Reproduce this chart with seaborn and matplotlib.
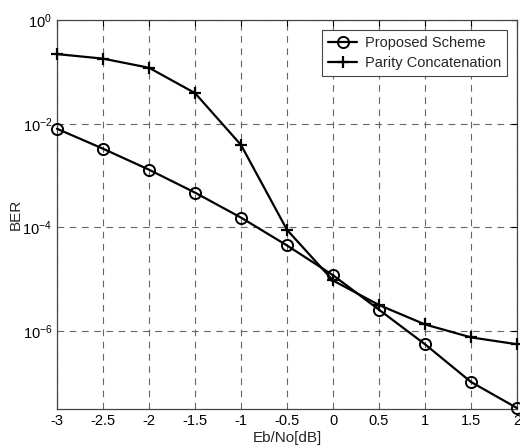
import matplotlib
matplotlib.use("Agg")
import matplotlib.pyplot as plt
import seaborn as sns
import numpy as np
import pandas as pd

ebno = [-3, -2.5, -2, -1.5, -1, -0.5, 0, 0.5, 1, 1.5, 2]
proposed = [8e-3, 3.3e-3, 1.3e-3, 4.7e-4, 1.55e-4, 4.5e-5, 1.2e-5, 2.6e-6, 5.6e-7, 1.05e-7, 3.3e-8]
parity = [0.22, 0.18, 0.12, 0.039, 3.9e-3, 9e-5, 9.5e-6, 3.2e-6, 1.35e-6, 7.6e-7, 5.6e-7]
xticks = [-3, -2.5, -2, -1.5, -1, -0.5, 0, 0.5, 1, 1.5, 2]
xtick_labels = ["-3", "-2.5", "-2", "-1.5", "-1", "-0.5", "0", "0.5", "1", "1.5", "2"]
yticks = [1e0, 1e-2, 1e-4, 1e-6]
ytick_labels = [r"$10^{0}$", r"$10^{-2}$", r"$10^{-4}$", r"$10^{-6}$"]

sns.set_style("white")
plt.rcParams['font.family'] = ['Liberation Sans', 'DejaVu Sans']
plt.rcParams['mathtext.fontset'] = 'custom'
plt.rcParams['mathtext.rm'] = 'Liberation Sans'
plt.rcParams['mathtext.it'] = 'Liberation Sans'
plt.rcParams['mathtext.default'] = 'regular'

fig = plt.figure(figsize=(5.2, 4.48), dpi=100)
ax = fig.add_axes([57/520, 39/448, 460/520, 389/448])

sns.lineplot(x=ebno, y=proposed, ax=ax, color='black', linewidth=1.6,
             marker='o', markersize=8, markerfacecolor='none',
             markeredgecolor='black', markeredgewidth=1.4, label='Proposed Scheme',
             clip_on=False, zorder=5)
sns.lineplot(x=ebno, y=parity, ax=ax, color='black', linewidth=1.6,
             marker='+', markersize=9, markeredgecolor='black',
             markeredgewidth=1.6, label='Parity Concatenation',
             clip_on=False, zorder=5)

ax.set_yscale('log')
ax.set_xlim(-3, 2)
ax.set_ylim(10**-7.5, 1)
ax.set_xticks(xticks)
ax.set_xticklabels(xtick_labels)
ax.set_yticks(yticks)
ax.set_yticklabels(ytick_labels)
ax.yaxis.set_minor_locator(matplotlib.ticker.NullLocator())
ax.tick_params(direction='in', length=4, labelsize=10.5, top=True, right=True, colors='black')
ax.grid(True, which='major', linestyle=(0, (6, 5)), color='#666666', linewidth=0.8)
for s in ax.spines.values():
    s.set_color('#444444')
    s.set_linewidth(0.9)

ax.set_xlabel('Eb/No[dB]', fontsize=11, labelpad=2)
ax.set_ylabel('BER', fontsize=11)
ax.yaxis.set_label_coords(-0.075, 0.5)

leg = ax.legend(loc='upper right', fancybox=False, edgecolor='#444444', framealpha=1,
                fontsize=10.5, borderaxespad=0.7, handlelength=2.0, borderpad=0.4,
                labelspacing=0.4, handletextpad=0.5)
leg.get_frame().set_linewidth(0.8)
leg.set_zorder(10)

fig.savefig('out.png', dpi=100)
